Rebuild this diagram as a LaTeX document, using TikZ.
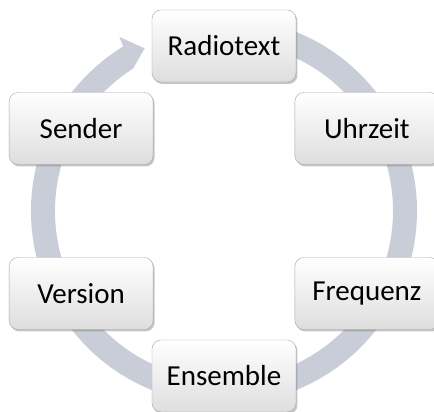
\documentclass[tikz,border=0pt]{standalone}
\usepackage{fontspec}
\setmainfont{Carlito}
\usepackage{tikz}
\usetikzlibrary{shadows}
\definecolor{ringgray}{RGB}{201,205,216}
\definecolor{boxline}{RGB}{165,165,165}
\tikzset{
  box/.style={draw=boxline, rounded corners=9pt, minimum width=144pt, minimum height=72pt,
    top color=white, bottom color=black!13, inner sep=0pt,
    drop shadow={opacity=.45, shadow xshift=1.5pt, shadow yshift=-2pt},
    font=\fontsize{29}{34}\selectfont}
}
\begin{document}
\begin{tikzpicture}[x=1pt,y=1pt]
\useasboundingbox (-224,-201) rectangle (210,211);
\fill[ringgray] (75:193) arc[start angle=75, end angle=-238.5, radius=193]
  -- (-239:203) -- (-244:181) -- (-237.5:169)
  arc[start angle=-237.5, end angle=75, radius=169] -- cycle;%矢印
\foreach \angle / \name / \label in
  {90/radio/Radiotext, 30/uhr/Uhrzeit, -30/freq/Frequenz, -90/ens/Ensemble, -150/ver/Version, 150/send/Sender}
  \node[box] (\name) at (\angle:165) {\label};
\end{tikzpicture}
\end{document}
